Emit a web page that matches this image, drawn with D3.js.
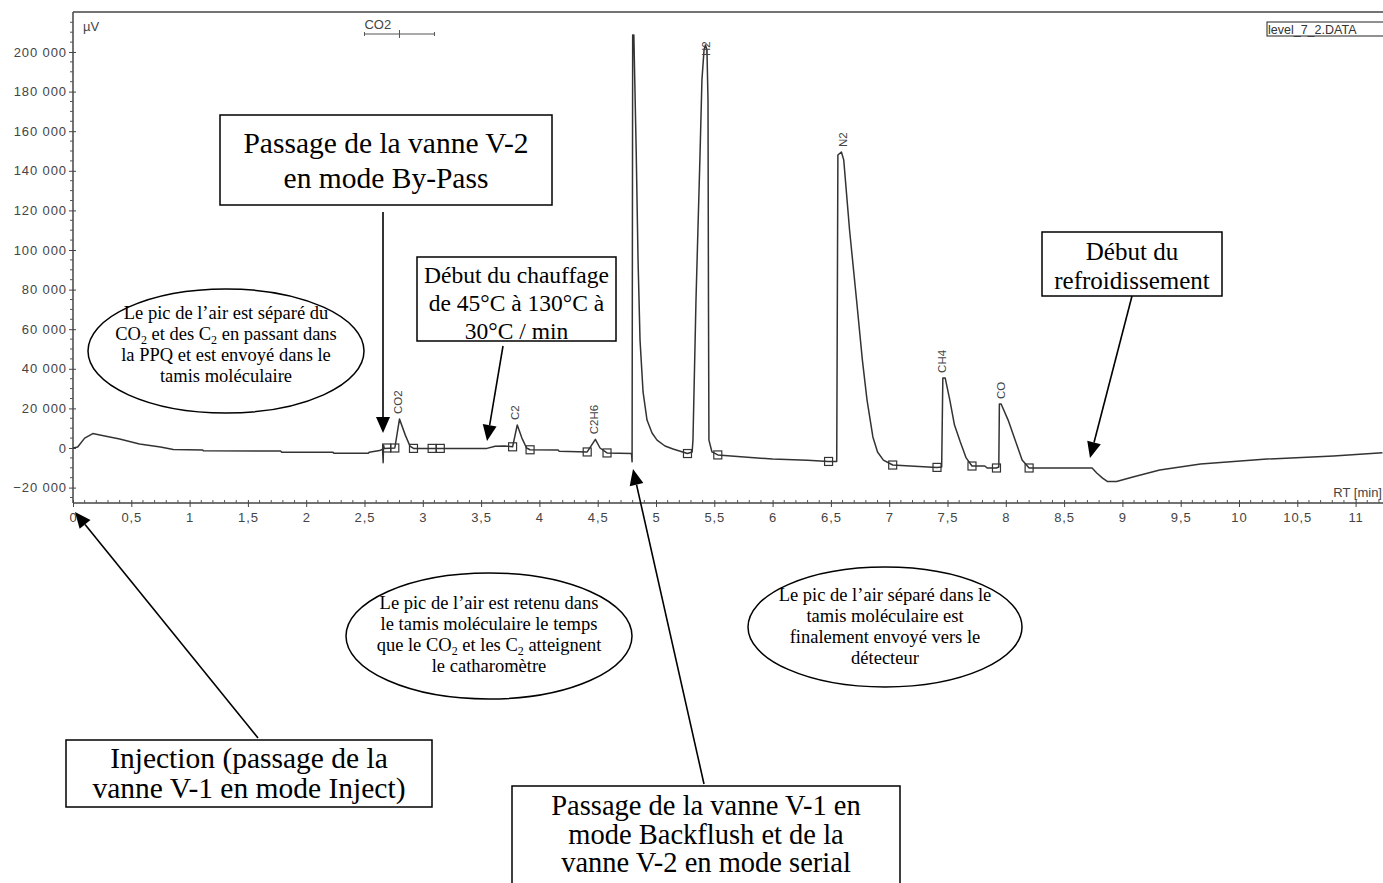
<!DOCTYPE html>
<html><head><meta charset="utf-8">
<script src="https://cdn.jsdelivr.net/npm/d3@7"></script>
<style>
html,body{margin:0;padding:0;background:#fff;}
svg{display:block;}
.ax text{font-family:"Liberation Sans",Arial,sans-serif;font-size:13px;fill:#444;letter-spacing:0.9px;}
.lbl{font-family:"Liberation Sans",Arial,sans-serif;fill:#444;}
.ann{font-family:"Liberation Serif","Times New Roman",serif;fill:#000;}
</style>
</head><body>
<script>
// ---- data ----
const rtMin = [0,0.04,0.10,0.17,0.23,0.40,0.57,0.75,0.86,1.11,1.12,1.78,1.79,2.23,2.24,2.53,2.54,2.63,2.655,2.66,2.663,2.67,2.76,2.80,2.85,2.89,2.92,3.55,3.62,3.70,3.77,3.81,3.85,3.89,3.92,4.16,4.17,4.41,4.48,4.52,4.58,4.79,4.795,4.80,4.81,4.83,4.846,4.863,4.889,4.923,4.966,5.009,5.077,5.146,5.27,5.31,5.317,5.343,5.377,5.394,5.412,5.424,5.437,5.446,5.450,5.454,5.48,5.53,6.00,6.30,6.48,6.55,6.56,6.59,6.61,6.66,6.72,6.77,6.81,6.86,6.90,6.95,7.03,7.18,7.41,7.45,7.46,7.48,7.52,7.56,7.61,7.66,7.71,7.82,7.84,7.92,7.94,7.945,7.96,8.02,8.08,8.14,8.20,8.74,8.78,8.83,8.87,8.95,9.09,9.32,9.67,10.24,10.81,11.23];
const signalUv = [0,500,5000,7300,6600,4500,2000,500,-800,-1000,-1400,-1500,-2100,-2200,-2700,-2700,-2200,-1300,-600,-7400,1500,-300,0,14600,6500,1000,-200,-200,900,1000,600,11600,5000,0,-900,-1000,-1600,-2000,4400,0,-2500,-2800,-7000,208600,208600,150500,95000,54500,28300,14100,7600,4000,1000,-500,-2800,-2000,4000,74750,147000,185900,201000,203500,201000,175800,74750,4000,-2000,-3500,-5600,-6200,-6800,-6800,148000,149500,145500,110100,74750,44400,24200,5600,-2000,-6100,-8600,-9100,-9800,-9600,35400,35400,24200,11600,3000,-5000,-9100,-9100,-10100,-10100,-9600,22200,22200,14100,4000,-6100,-10100,-10100,-12600,-15200,-16900,-16900,-14600,-11100,-8100,-5600,-4000,-2400];
const markerTimes = [2.69,2.76,2.92,3.08,3.15,3.77,3.92,4.41,4.58,5.27,5.53,6.48,7.03,7.41,7.71,7.92,8.20];
const markerValues = [0,0,-200,-200,-200,600,-900,-2000,-2500,-2800,-3500,-6800,-8600,-9800,-9100,-10100,-10100];
const peakNames = ["CO2","C2","C2H6","H2","N2","CH4","CO"];
const peakTimes = [2.79,3.79,4.47,5.43,6.60,7.45,7.96];
const peakApex = [14600,11600,4400,203500,149500,35400,22200];
const co2Window = [2.5,2.8,3.1];
const yTicks = [-20000,0,20000,40000,60000,80000,100000,120000,140000,160000,180000,200000];
const xTicks = [0,0.5,1,1.5,2,2.5,3,3.5,4,4.5,5,5.5,6,6.5,7,7.5,8,8.5,9,9.5,10,10.5,11];

const W = 1383, H = 883;
const svg = d3.select("body").append("svg").attr("width", W).attr("height", H);

const x = d3.scaleLinear().domain([0, 11.235]).range([73, 1383]);
const y = d3.scaleLinear().domain([-27780, 220200]).range([503, 12]);

const ink = "#333";
svg.append("line").attr("x1",73).attr("x2",W).attr("y1",12).attr("y2",12).attr("stroke","#444").attr("stroke-width",1.5);

const fmtY = d => d3.format(",")(d).replace(/,/g," ");
const gy = svg.append("g").attr("class","ax").attr("transform","translate(73,0)")
  .call(d3.axisLeft(y).tickValues(yTicks).tickFormat(fmtY).tickSize(4).tickPadding(2));
gy.select(".domain").attr("stroke","#444").attr("stroke-width",1.5).attr("d","M0,12V503");
gy.selectAll(".tick line").attr("stroke","#444").attr("x2",-4).attr("x1",3);
const yMinor = d3.range(-25000, 220001, 5000).filter(v => v % 20000 !== 0);
svg.append("g").selectAll("line").data(yMinor).join("line")
  .attr("x1",70).attr("x2",73).attr("y1",d=>y(d)).attr("y2",d=>y(d)).attr("stroke","#555");

const fmtX = d => String(d).replace(".", ",");
const gx = svg.append("g").attr("class","ax").attr("transform","translate(0,503)")
  .call(d3.axisBottom(x).tickValues(xTicks).tickFormat(fmtX).tickSize(4).tickPadding(6));
gx.select(".domain").attr("stroke","#444").attr("stroke-width",1.5).attr("d","M73,0H1383");
gx.selectAll(".tick line").attr("stroke","#444").attr("y1",-3).attr("y2",4);
const xMinor = d3.range(0, 11.24, 0.1).filter(v => Math.abs(v*2 - Math.round(v*2)) > 0.01);
svg.append("g").selectAll("line").data(xMinor).join("line")
  .attr("x1",d=>x(d)).attr("x2",d=>x(d)).attr("y1",500).attr("y2",503).attr("stroke","#555");

svg.append("text").attr("class","lbl").attr("x",83).attr("y",31).style("font-size","13px").text("µV");
svg.append("text").attr("class","lbl").attr("x",1382).attr("y",497).attr("text-anchor","end").style("font-size","13px").text("RT [min]");

const gb = svg.append("g").attr("stroke","#555");
gb.append("line").attr("x1",x(co2Window[0])).attr("x2",x(co2Window[2])).attr("y1",34).attr("y2",34);
co2Window.forEach((t,i)=>{
  const h = i===1 ? 4 : 2;
  gb.append("line").attr("x1",x(t)).attr("x2",x(t)).attr("y1",34-h).attr("y2",34+h);
});
svg.append("text").attr("class","lbl").attr("x",x(co2Window[0])).attr("y",29).style("font-size","13px").text("CO2");

svg.append("rect").attr("x",1267).attr("y",22).attr("width",118).attr("height",14).attr("fill","none").attr("stroke","#222");
svg.append("text").attr("class","lbl").attr("x",1268).attr("y",34).style("font-size","12.5px").style("fill","#333").text("level_7_2.DATA");

const pts = rtMin.map((t,i)=>[t, signalUv[i]]);
svg.append("path").datum(pts)
  .attr("d", d3.line().x(d=>x(d[0])).y(d=>y(d[1])))
  .attr("fill","none").attr("stroke",ink).attr("stroke-width",1.5).attr("stroke-linejoin","round");

svg.append("g").selectAll("rect").data(markerTimes).join("rect")
  .attr("x",(d)=>x(d)-4).attr("y",(d,i)=>y(markerValues[i])-4).attr("width",8).attr("height",8)
  .attr("fill","none").attr("stroke",ink).attr("stroke-width",1.2);

peakNames.forEach((n,i)=>{
  const px = x(peakTimes[i]);
  const len = n.length*7;
  const py = Math.max(y(peakApex[i]) - 5, 42 + len);
  svg.append("text").attr("class","lbl").attr("transform",`translate(${px},${py}) rotate(-90)`)
    .attr("dominant-baseline","central").style("font-size","11.5px").text(n);
});

// ---- annotations ----
function arrow(x1,y1,x2,y2){
  const a = Math.atan2(y2-y1,x2-x1), L=16, Wd=7;
  const bx = x2 - L*Math.cos(a), by = y2 - L*Math.sin(a);
  svg.append("line").attr("x1",x1).attr("y1",y1).attr("x2",bx).attr("y2",by).attr("stroke","#000").attr("stroke-width",1.6);
  const p = [[x2,y2],[bx + Wd*Math.sin(a), by - Wd*Math.cos(a)],[bx - Wd*Math.sin(a), by + Wd*Math.cos(a)]];
  svg.append("path").attr("d","M"+p.map(q=>q.join(",")).join("L")+"Z").attr("fill","#000");
}
function box(x0,y0,w,h,lines,fs,by,lh){
  svg.append("rect").attr("x",x0).attr("y",y0).attr("width",w).attr("height",h).attr("fill","#fff").attr("stroke","#000").attr("stroke-width",1.5);
  lines.forEach((l,i)=>{
    svg.append("text").attr("class","ann").attr("x",x0+w/2).attr("y",by+i*lh).attr("text-anchor","middle")
      .style("font-size",fs+"px").text(l);
  });
}
function ellipse(cx,cy,rx,ry,lines,fs,ty,lh){
  svg.append("ellipse").attr("cx",cx).attr("cy",cy).attr("rx",rx).attr("ry",ry).attr("fill","#fff").attr("stroke","#000").attr("stroke-width",1.5);
  lines.forEach((l,i)=>{
    const t = svg.append("text").attr("class","ann").attr("x",cx).attr("y",ty+i*lh).attr("text-anchor","middle").style("font-size",fs+"px");
    l.forEach(seg=>{
      if (seg.sub) t.append("tspan").attr("dy",4).style("font-size",Math.round(fs*0.66)+"px").text(seg.sub);
      else if (seg.back) t.append("tspan").attr("dy",-4).text(seg.back);
      else t.append("tspan").text(seg.t);
    });
  });
}

box(220,115,332,90,["Passage de la vanne V-2","en mode By-Pass"],29.5,153,35);
arrow(383,212,383,433);

box(417,257,199,84,["Début du chauffage","de 45°C à 130°C à","30°C / min"],23.5,283,28);
arrow(503,346,487,441);

box(1042,232,180,64,["Début du","refroidissement"],25,260,29);
arrow(1132,296,1090,458);

box(66,740,366,67,["Injection (passage de la","vanne V-1 en mode Inject)"],29.5,768,30);
arrow(258,738,75,512);

box(512,786,388,110,["Passage de la vanne V-1 en","mode Backflush et de la","vanne V-2 en mode serial"],28.5,815,28.5);
arrow(704,784,633,469);

ellipse(226,351,138,62,[
  [{t:"Le pic de l’air est séparé du"}],
  [{t:"CO"},{sub:"2"},{back:" et des C"},{sub:"2"},{back:" en passant dans"}],
  [{t:"la PPQ et est envoyé dans le"}],
  [{t:"tamis moléculaire"}]],18.5,319,21);

ellipse(489,636,143,63,[
  [{t:"Le pic de l’air est retenu dans"}],
  [{t:"le tamis moléculaire le temps"}],
  [{t:"que le CO"},{sub:"2"},{back:" et les C"},{sub:"2"},{back:" atteignent"}],
  [{t:"le catharomètre"}]],18.5,609,21);

ellipse(885,627,137,60,[
  [{t:"Le pic de l’air séparé dans le"}],
  [{t:"tamis moléculaire est"}],
  [{t:"finalement envoyé vers le"}],
  [{t:"détecteur"}]],18.5,601,21);
</script>
</body></html>
